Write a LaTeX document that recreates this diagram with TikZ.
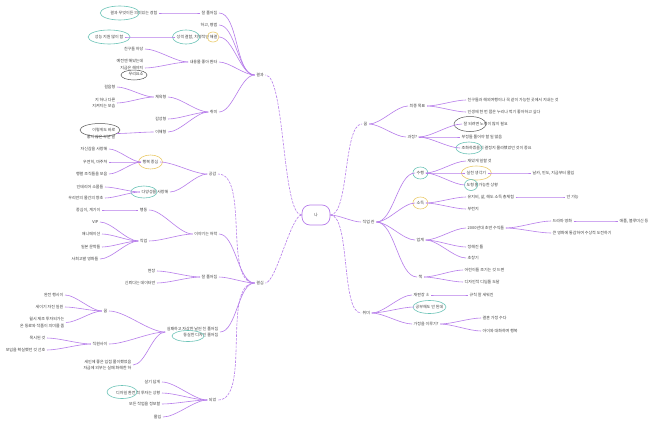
\documentclass[tikz,border=0pt]{standalone}
\usepackage{fontspec}
\newfontfamily\krfont{Noto Sans CJK KR}
\usepackage{tikz}
\usetikzlibrary{shapes.geometric}
\usepackage{xcolor}
\definecolor{mmviolet}{HTML}{B77DEB}
\definecolor{mmteal}{HTML}{6CC4B8}
\definecolor{mmyellow}{HTML}{EBCB6A}
\definecolor{mmgray}{HTML}{555555}
\definecolor{mmtext}{HTML}{404040}

\begin{document}
\begin{tikzpicture}[x=1pt, y=-1pt,
  root/.style={draw=mmviolet, line width=0.7pt, rounded corners=8pt,
    minimum width=28pt, minimum height=20pt,
    font=\krfont\fontsize{4}{5}\selectfont, text=mmtext},
  topic/.style={font=\krfont\fontsize{4}{6.5}\selectfont, text=mmtext,
    inner sep=1.5pt},
  lt/.style={topic, anchor=east, align=right},
  rt/.style={topic, anchor=west, align=left},
  link/.style={mmviolet, line width=0.6pt, looseness=0.7},
  dlink/.style={link, dash pattern=on 2.5pt off 1.2pt},
  tealring/.style={draw=mmteal, line width=0.6pt},
  yellowring/.style={draw=mmyellow, line width=0.6pt},
  grayring/.style={draw=mmgray, line width=0.5pt}
]
  \fill[white] (0,0) rectangle (660,423);
  \useasboundingbox (0,0) rectangle (660,423);

  % Centre
  \node[root] (me) at (316,215) {나};

  % Right: dream
  \node[rt] (dream) at (362,124) {꿈};
  \node[rt] (goal) at (408,106) {최종 목표};
  \node[rt] (goalA) at (466,100) {친구들과 해외여행이나 꼭 같이 가능한 곳에서 지내는 것};
  \node[rt] (goalB) at (466,112) {인생에 한 번 쯤은 누리나 먹기 좋아하고 싶다};
  \node[rt] (proc) at (406,137) {과정?};
  \node[rt] (procA) at (462,124) {잘 되려면 노력이 많이 필요};
  \node[rt] (procB) at (460,137) {부정들 풀어야 할 일 많음};
  \node[rt] (procC) at (460,148) {조화하겠을지 결정지 몰라했었던 것이 중요};
  \draw[grayring] ([xshift=8pt]procA.west) ellipse [x radius=16pt, y radius=7.5pt];
  \draw[tealring] ([xshift=9pt]procC.west) ellipse [x radius=13pt, y radius=6pt];

  % Right: career
  \node[rt] (career) at (361,222) {직업 관};
  \node[rt] (perf) at (415,173) {수행};
  \node[rt] (income) at (415,203) {소득};
  \node[rt] (indus) at (415,240) {업계};
  \node[rt] (book) at (417,277) {책};
  \draw[tealring] (perf.center) ellipse [x radius=7.5pt, y radius=6pt];
  \draw[yellowring] (income.center) ellipse [x radius=7.5pt, y radius=6pt];

  \node[rt] (perfA) at (466,161) {재밌게 일할 것};
  \node[rt] (perfB) at (465,173) {실천 생각기};
  \node[rt] (perfBa) at (531,173) {날카, 민도, 지금부터 몰입};
  \node[rt] (perfC) at (465,185) {도형 불가능한 상황};
  \draw[yellowring] (perfB.center) ellipse [x radius=15pt, y radius=7pt];
  \draw[tealring] ([xshift=6pt]perfC.west) ellipse [x radius=6.5pt, y radius=5.5pt];

  \node[rt] (incA) at (466,197) {유지비, 삶, 해도 소득 총체험};
  \node[rt] (incAa) at (565,197) {안 가능};
  \node[rt] (incB) at (466,209) {부런지};

  \node[rt] (indA) at (466,228) {2000년대 초반 수익들};
  \node[rt] (indAa) at (551,221) {드라마 영화};
  \node[rt] (indAaa) at (618,221) {애플, 블루미신 등};
  \node[rt] (indAb) at (551,233) {큰 영화에 통감하여 수상적 도전하기};
  \node[rt] (indB) at (466,247) {정해진 틀};
  \node[rt] (indC) at (466,258) {초창기};

  \node[rt] (bookA) at (463,270) {어린이들 조기는 것 드편};
  \node[rt] (bookB) at (463,282) {디자인적 디딤돌 도달};

  % Right: hobby
  \node[rt] (hobby) at (361,313) {취미};
  \node[rt] (hobA) at (412,295) {재판장 ±};
  \node[rt] (hobAa) at (468,295) {규칙 잘 세워진};
  \node[rt] (hobB) at (414,307) {공부해도 안 된데};
  \node[rt] (hobC) at (412,324) {가정을 이루기?};
  \node[rt] (hobCa) at (481,318) {결혼 가정 수다};
  \node[rt] (hobCb) at (481,331) {아이와 대화하며 행복};
  \draw[tealring] (hobB.center) ellipse [x radius=16.5pt, y radius=6.5pt];

  % Left: result
  \node[topic] (res) at (260,75) {결과};
  \node[lt] (resA) at (219,13) {잘 풀어짐};
  \node[lt] (resAa) at (159,13) {결과 무엇이든 의미있는 경험};
  \node[lt] (resB) at (219,25) {하고, 평범};
  \node[lt] (resC) at (219,37) {성격 결함, 치명적인 해결};
  \node[lt] (resCa) at (125,37) {성능 지원 많이 함};
  \node[lt] (resD) at (219,62) {내용물 좋아 환타};
  \node[lt] (resDa) at (145,49) {친구들 하당};
  \node[lt] (resDb) at (145,68) {예전엔 해놨는데\\지금은 해야지\\무리요소};
  \node[lt] (resE) at (219,112) {취미};
  \node[lt] (resEa) at (168,97) {체육형};
  \node[lt] (resEaa) at (117,87) {걸음형};
  \node[lt] (resEab) at (117,103) {지 하나 다른\\지켜지는 모습};
  \node[lt] (resEb) at (168,119) {감성형};
  \node[lt] (resEc) at (168,132) {이해형};
  \node[lt] (resEca) at (117,133.5) {이렇게도 바로\\좋지 않은 부분 말};
  \draw[tealring] ([xshift=11pt]resAa.west) ellipse [x radius=19.5pt, y radius=7pt];
  \draw[tealring] ([xshift=11pt]resC.west) ellipse [x radius=13.5pt, y radius=7pt];
  \draw[yellowring] ([xshift=-6pt]resC.east) ellipse [x radius=6pt, y radius=5pt];
  \draw[tealring] (resCa.center) ellipse [x radius=21pt, y radius=7pt];
  \draw[grayring] (134,75) ellipse [x radius=13pt, y radius=5pt];
  \draw[grayring] (100,130) ellipse [x radius=20pt, y radius=6.5pt];

  % Left: decision
  \node[topic] (dec) at (260,283) {결심};
  \node[lt] (decA) at (218,174) {공감};
  \node[lt] (decAa) at (160,162) {행복 중심};
  \node[lt] (decAa1) at (109,149) {자신감을 사랑해};
  \node[lt] (decAa2) at (109,162) {우연히, 마주쳐};
  \node[lt] (decAa3) at (109,174) {행렬 조직들을 모음};
  \node[lt] (decAb) at (170,192) {다양성을 사랑해};
  \node[lt] (decAb1) at (105,187) {인테리어 소품들};
  \node[lt] (decAb2) at (105,198) {우리만의 물건의 향초};
  \draw[yellowring] (decAa.center) ellipse [x radius=12pt, y radius=7pt];
  \draw[tealring] ([xshift=4pt]decAb.west) ellipse [x radius=13pt, y radius=6pt];

  \node[lt] (decB) at (219,234) {이야기는 허락};
  \node[lt] (decBa) at (149,210) {행동};
  \node[lt] (decBa1) at (102,210) {중심이, 계기이};
  \node[lt] (decBb) at (149,241) {직업};
  \node[lt] (decBb1) at (100,222) {VIP};
  \node[lt] (decBb2) at (102,234) {애니메이션};
  \node[lt] (decBb3) at (102,247) {일본 문학들};
  \node[lt] (decBb4) at (100,259) {사회고발 영화들};

  \node[lt] (decC) at (219,277) {잘 풀어짐};
  \node[lt] (decC1) at (157,271) {현장};
  \node[lt] (decC2) at (157,283) {신뢰다는 데이터만};

  \node[lt] (decD) at (220,332) {실패하고 자상한 날씬 친 풀어짐\\동실한 디자인 줄어짐};
  \node[lt] (decDa) at (109,311) {꿈};
  \node[lt] (decDa1) at (65,295) {완전 행시이};
  \node[lt] (decDa2) at (65,307) {세이기 자진 일원};
  \node[lt] (decDa3) at (66,322.5) {월시 제조 투자되가는\\온 동료와 작품이 의미를 줌};
  \node[lt] (decDb) at (109,344) {직원사이};
  \node[lt] (decDb1) at (47,338) {목시된 것};
  \node[lt] (decDb2) at (47,350) {모임을 확실했던 것 선호};
  \node[lt] (decDc) at (133,365) {세인에 좋은 입점 풀이했었음\\자금에 외부는 실패 화해한 하};
  \draw[tealring] (188,336) ellipse [x radius=16pt, y radius=5.5pt];

  \node[lt] (decE) at (218,400) {되었};
  \node[lt] (decE1) at (162,382) {살기 답게};
  \node[lt] (decE2) at (162,393) {디자일 환전 척 투자는 상황};
  \node[lt] (decE3) at (162,404) {모든 작업을 정보할};
  \node[lt] (decE4) at (163,417) {몰입};
  \draw[tealring] (122,392) ellipse [x radius=15pt, y radius=6.5pt];

  % Main branches
  \draw[dlink, looseness=0.35] (me.west) to[out=180,in=0] (res.east);
  \draw[dlink, looseness=0.35] (me.west) to[out=180,in=0] (dec.east);
  \draw[dlink, looseness=0.5] (me.east) to[out=0,in=180] (dream.west);
  \draw[link] (me.east) to[out=0,in=180] (career.west);
  \draw[dlink, looseness=0.5] (me.east) to[out=0,in=180] (hobby.west);

  % Right links
  \foreach \a/\b in {dream/goal, dream/proc, goal/goalA, goal/goalB,
      proc/procA, proc/procB, proc/procC,
      career/perf, career/income, career/indus, career/book,
      perf/perfA, perf/perfB, perfB/perfBa, perf/perfC,
      income/incA, incA/incAa, income/incB,
      indus/indA, indA/indAa, indAa/indAaa, indA/indAb, indus/indB, indus/indC,
      book/bookA, book/bookB,
      hobby/hobA, hobA/hobAa, hobby/hobB, hobby/hobC, hobC/hobCa, hobC/hobCb}
    \draw[link] (\a.east) to[out=0,in=180] (\b.west);

  % Left links
  \foreach \a/\b in {res/resA, resA/resAa, res/resB, res/resC, resC/resCa,
      res/resD, resD/resDa, resD/resDb,
      res/resE, resE/resEa, resEa/resEaa, resEa/resEab, resE/resEb,
      resE/resEc, resEc/resEca,
      decA/decAa, decAa/decAa1, decAa/decAa2, decAa/decAa3,
      decA/decAb, decAb/decAb1, decAb/decAb2,
      dec/decB, decB/decBa, decBa/decBa1, decB/decBb,
      decBb/decBb1, decBb/decBb2, decBb/decBb3, decBb/decBb4,
      dec/decC, decC/decC1, decC/decC2,
      dec/decD, decD/decDa, decDa/decDa1, decDa/decDa2, decDa/decDa3,
      decD/decDb, decDb/decDb1, decDb/decDb2, decD/decDc,
      decE/decE1, decE/decE2, decE/decE3, decE/decE4}
    \draw[link] (\a.west) to[out=180,in=0] (\b.east);
  \draw[dlink] (dec.west) to[out=180,in=0] (decA.east);
  \draw[dlink] (dec.west) to[out=180,in=0] (decE.east);
\end{tikzpicture}
\end{document}
